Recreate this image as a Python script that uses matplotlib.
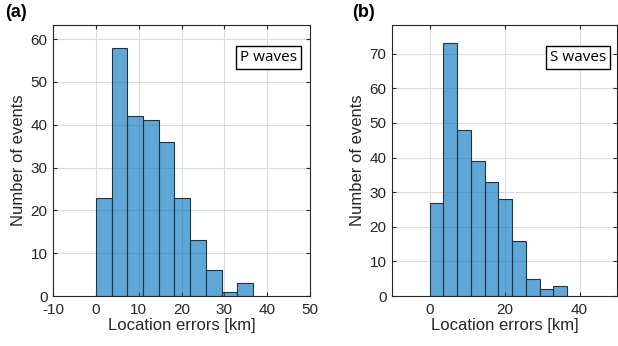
import matplotlib

matplotlib.use("Agg")
import matplotlib.pyplot as plt
import numpy as np

plt.rcParams["font.family"] = ["Liberation Sans", "DejaVu Sans"]
plt.rcParams["axes.unicode_minus"] = False

# histogram data
bin_edges = [0.0, 3.67, 7.34, 11.01, 14.68, 18.35, 22.02, 25.69, 29.36, 33.03, 36.7]
p_counts = [23, 58, 42, 41, 36, 23, 13, 6, 1, 3]
s_counts = [27, 73, 48, 39, 33, 28, 16, 5, 2, 3]

p_xticks = [-10, 0, 10, 20, 30, 40, 50]
s_xticks = [0, 20, 40]
p_yticks = [0, 10, 20, 30, 40, 50, 60]
s_yticks = [0, 10, 20, 30, 40, 50, 60, 70]

FILL = (0.0, 0.447, 0.741, 0.62)
EDGE = "#1f3444"


def _panel(ax, counts, xticks, yticks, ymax, label):
    edges = np.asarray(bin_edges)
    ax.bar(edges[:-1], counts, width=np.diff(edges), align="edge",
           color=FILL, edgecolor=EDGE, linewidth=0.8, zorder=3)
    ax.set_xlim(-10, 50)
    ax.set_ylim(0, ymax)
    ax.set_xticks(xticks)
    ax.set_yticks(yticks)
    ax.grid(True, color="#dcdcdc", linewidth=0.8, zorder=0)
    ax.set_axisbelow(True)
    ax.tick_params(direction="in", top=True, right=True, labelsize=11,
                   length=3, width=0.8, colors="#262626")
    ax.tick_params(axis="x", pad=5)
    ax.tick_params(axis="y", pad=4)
    for s in ax.spines.values():
        s.set_color("#262626")
        s.set_linewidth(0.8)
    ax.set_xlabel("Location errors [km]", fontsize=12, color="#262626", labelpad=1)
    ax.set_ylabel("Number of events", fontsize=12, color="#262626", labelpad=3)
    ax.text(0.95, 0.88, label, transform=ax.transAxes, ha="right", va="center",
            fontsize=11, family=["Open Sans", "DejaVu Sans"],
            bbox=dict(boxstyle="square,pad=0.25", fc="white", ec="black", lw=1.0),
            zorder=5)


fig = plt.figure(figsize=(6.18, 3.46), dpi=100)
ax_a = fig.add_axes([53 / 618, 1 - 296 / 346, 257 / 618, 271 / 346])
ax_b = fig.add_axes([392 / 618, 1 - 296 / 346, 225 / 618, 271 / 346])

_panel(ax_a, p_counts, p_xticks, p_yticks, 63.3, "P waves")
_panel(ax_b, s_counts, s_xticks, s_yticks, 78.3, "S waves")

fig.text(5 / 618, 1 - 4 / 346, "(a)", fontsize=13, fontweight="bold", va="top", ha="left")
fig.text(352 / 618, 1 - 4 / 346, "(b)", fontsize=13, fontweight="bold", va="top", ha="left")

fig.savefig("out.png", dpi=100)
plt.close(fig)
